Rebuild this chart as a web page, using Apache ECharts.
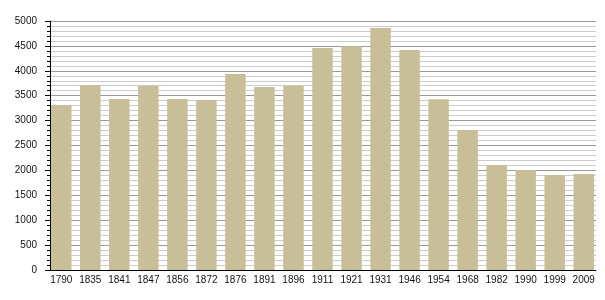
<!DOCTYPE html>
<html>
<head>
<meta charset="utf-8">
<script src="https://cdn.jsdelivr.net/npm/echarts@6/dist/echarts.min.js"></script>
<style>
html,body{margin:0;padding:0;background:#fff;}
#chart{width:605px;height:300px;}
</style>
</head>
<body>
<div id="chart"></div>
<script>
const categories = ['1790','1835','1841','1847','1856','1872','1876','1891','1896','1911','1921','1931','1946','1954','1968','1982','1990','1999','2009'];
const population = [3313,3715,3434,3700,3434,3414,3936,3675,3700,4458,4492,4860,4418,3427,2811,2108,2008,1908,1928];
const yTicks = {min: 0, max: 5000, interval: 500};

const font = 'Liberation Sans, Arial, sans-serif';
const chart = echarts.init(document.getElementById('chart'), null, {renderer: 'canvas'});
chart.setOption({
  animation: false,
  backgroundColor: '#ffffff',
  grid: [
    {left: 50, right: 9, top: 21, bottom: 30},
    {left: 46.75, right: 6.75, top: 21, bottom: 30}
  ],
  xAxis: [
    {
      gridIndex: 0, type: 'category', data: categories,
      axisLine: {show: true, lineStyle: {color: '#000', width: 1}},
      axisTick: {show: false}, axisLabel: {show: false}, splitLine: {show: false}
    },
    {
      gridIndex: 1, type: 'category', data: categories,
      axisLine: {show: false}, axisTick: {show: false},
      axisLabel: {show: true, fontSize: 10, color: '#111', fontFamily: font, margin: 5},
      splitLine: {show: false}
    }
  ],
  yAxis: [
    {
      gridIndex: 0, type: 'value', min: yTicks.min, max: yTicks.max, interval: yTicks.interval,
      axisLine: {show: true, lineStyle: {color: '#000', width: 1}},
      axisTick: {show: true, length: 5, lineStyle: {color: '#000'}},
      minorTick: {show: true, splitNumber: 5, length: 3, lineStyle: {color: '#000'}},
      axisLabel: {fontSize: 10, color: '#111', fontFamily: font, margin: 13, formatter: v => String(v)},
      splitLine: {show: true, lineStyle: {color: '#999', width: 1}},
      minorSplitLine: {show: true, lineStyle: {color: '#ccc', width: 1}}
    },
    {
      gridIndex: 1, type: 'value', min: yTicks.min, max: yTicks.max, interval: yTicks.interval,
      show: false, splitLine: {show: false}
    }
  ],
  series: [
    {
      type: 'bar', xAxisIndex: 1, yAxisIndex: 1, data: population,
      barWidth: 20.5,
      itemStyle: {color: '#c8bf98'},
      z: 5
    }
  ]
});
</script>
</body>
</html>
